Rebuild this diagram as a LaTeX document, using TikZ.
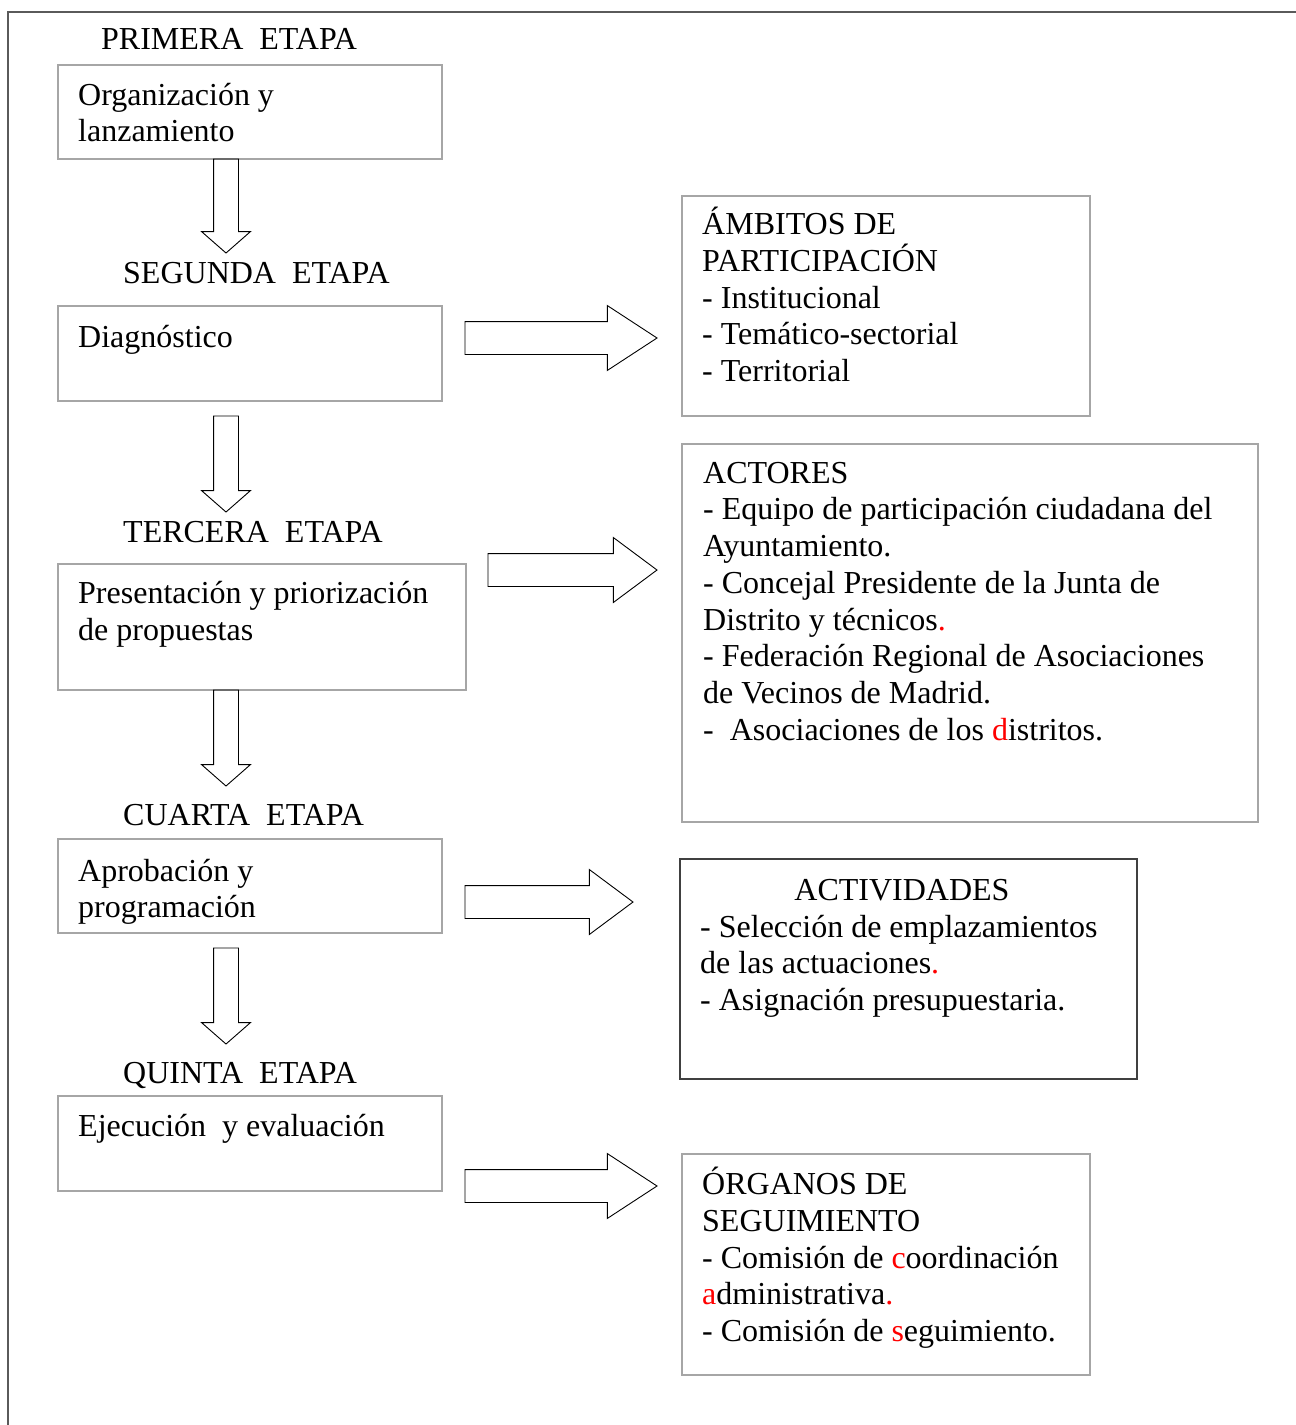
\documentclass[tikz,border=0pt]{standalone}
\usepackage{fontspec}
\setmainfont{Liberation Serif}
\usetikzlibrary{shapes.arrows,positioning}
\definecolor{bordecaja}{HTML}{A6A6A6}
\definecolor{bordeoscuro}{HTML}{404040}
\definecolor{bordemarco}{HTML}{5A5A5A}

\begin{document}
\begin{tikzpicture}[x=1pt, y=-1pt,
    caja/.style={draw=bordecaja, line width=1.1pt, rectangle, inner sep=0pt, outer sep=0pt, anchor=north west},
    texto/.style={font=\fontsize{32}{36.75}\selectfont, align=left, inner sep=0pt, anchor=base west},
    flechab/.style={single arrow, draw=black, line width=0.9pt, inner sep=0pt, outer sep=0pt, text height=24pt, text depth=0pt, single arrow head extend=12pt, single arrow tip angle=97.6, rotate=-90, anchor=tail},
    flechad/.style={single arrow, draw=black, line width=0.9pt, inner sep=0pt, outer sep=0pt, text height=32pt, text depth=0pt, single arrow head extend=16pt, anchor=tail}
]
    \useasboundingbox (0,0) rectangle (1296,1425);
    \draw [bordemarco, line width=1.5pt] (8,1425) -- (8,12) -- (1296,12);

    % etapas (texts placed at the baseline of their last line)
    \node [texto] (n1) at (101,49.5) {PRIMERA~~ETAPA};
    \node [caja, minimum width=384, minimum height=94] (e1) at (58,65) {};
    \node [texto] (t1) at (78,141.75) {Organización y\\lanzamiento};

    \node [texto] (n2) at (123,283.5) {SEGUNDA~~ETAPA};
    \node [caja, minimum width=384, minimum height=95] (e2) at (58,306) {};
    \node [texto] (t2) at (78,347) {Diagnóstico};

    \node [texto] (n3) at (123,542.5) {TERCERA~~ETAPA};
    \node [caja, minimum width=408, minimum height=126] (e3) at (58,564) {};
    \node [texto] (t3) at (78,640.25) {Presentación y priorización\\de propuestas};

    \node [texto] (n4) at (123,825) {CUARTA~~ETAPA};
    \node [caja, minimum width=384, minimum height=94] (e4) at (58,839) {};
    \node [texto] (t4) at (78,917.75) {Aprobación y\\programación};

    \node [texto] (n5) at (123,1083) {QUINTA~~ETAPA};
    \node [caja, minimum width=384, minimum height=95] (e5) at (58,1096) {};
    \node [texto] (t5) at (78,1136) {Ejecución~ y evaluación};

    % recuadros de la derecha
    \node [caja, minimum width=408, minimum height=220] (ambitos) at (682,196) {};
    \node [texto] (ta) at (702,381.5) {ÁMBITOS DE\\PARTICIPACIÓN\\- Institucional\\- Temático-sectorial\\- Territorial};

    \node [caja, minimum width=576, minimum height=378] (actores) at (682,444) {};
    \node [texto] (tb) at (703,740.25) {ACTORES\\- Equipo de participación ciudadana del\\Ayuntamiento.\\- Concejal Presidente de la Junta de\\Distrito y técnicos\textcolor{red}{.}\\- Federación Regional de Asociaciones\\de Vecinos de Madrid.\\-~ Asociaciones de los \textcolor{red}{d}istritos.};

    \node [caja, draw=bordeoscuro, minimum width=457, minimum height=220] (actividades) at (680,859) {};
    \node [texto, anchor=base] (tc0) at (902,900) {ACTIVIDADES};
    \node [texto] (tc) at (700,1010.5) {- Selección de emplazamientos\\de las actuaciones\textcolor{red}{.}\\- Asignación presupuestaria.};

    \node [caja, minimum width=408, minimum height=221] (organos) at (682,1154) {};
    \node [texto] (td) at (702,1341.5) {ÓRGANOS DE\\SEGUIMIENTO\\- Comisión de \textcolor{red}{c}oordinación\\\textcolor{red}{a}dministrativa\textcolor{red}{.}\\- Comisión de \textcolor{red}{s}eguimiento.};

    % flechas
    \node [flechab, minimum height=94] (f1) at (226,159) {};
    \node [flechab, minimum height=96] (f2) at (226,416) {};
    \node [flechab, minimum height=96] (f3) at (226,690) {};
    \node [flechab, minimum height=96] (f4) at (226,948) {};

    \node [flechad, minimum height=192, single arrow tip angle=66.3] (g2) at (465,338) {};
    \node [flechad, minimum height=169, single arrow tip angle=73.3] (g3) at (488,570) {};
    \node [flechad, minimum height=168, single arrow tip angle=73.3] (g4) at (465,902) {};
    \node [flechad, minimum height=192, single arrow tip angle=66.3] (g5) at (465,1186) {};
\end{tikzpicture}
\end{document}
